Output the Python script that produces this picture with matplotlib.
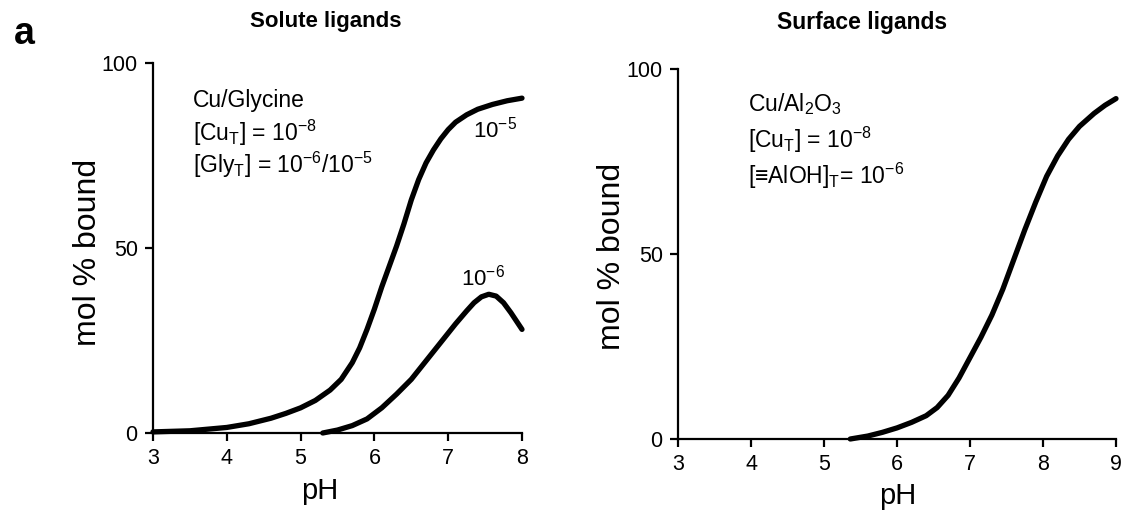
import matplotlib
matplotlib.use("Agg")
import matplotlib.pyplot as plt

plt.rcParams["font.family"] = ["Liberation Sans", "DejaVu Sans"]
plt.rcParams["mathtext.fontset"] = "custom"
plt.rcParams["mathtext.rm"] = "Liberation Sans"
plt.rcParams["mathtext.it"] = "Liberation Sans:italic"
plt.rcParams["mathtext.bf"] = "Liberation Sans:bold"

# Cu bound by glycine, [Gly_T] = 1e-5
gly5_ph = [3.0, 3.5, 4.0, 4.3, 4.6, 4.8, 5.0, 5.2, 5.4, 5.55, 5.7, 5.8, 5.9, 6.0, 6.1, 6.2,
           6.3, 6.4, 6.5, 6.6, 6.7, 6.8, 6.9, 7.0, 7.1, 7.25, 7.4, 7.6, 7.8, 8.0]
gly5_pct = [0.3, 0.6, 1.5, 2.5, 4.0, 5.3, 6.8, 8.8, 11.6, 14.5, 19.0, 23.0, 28.0, 33.5, 39.5, 45.0,
            50.5, 56.5, 63.0, 68.5, 73.0, 76.5, 79.5, 82.0, 84.0, 86.0, 87.5, 88.8, 89.8, 90.5]

# Cu bound by glycine, [Gly_T] = 1e-6
gly6_ph = [5.3, 5.5, 5.7, 5.9, 6.1, 6.3, 6.5, 6.7, 6.9, 7.1, 7.25, 7.35, 7.45, 7.55, 7.65, 7.75, 7.85, 8.0]
gly6_pct = [0.0, 0.8, 2.0, 3.8, 6.8, 10.5, 14.5, 19.5, 24.5, 29.5, 33.0, 35.2, 36.8, 37.5, 37.0, 35.2, 32.5, 28.0]

# Cu bound on Al2O3 surface
al_ph = [5.36, 5.6, 5.8, 6.0, 6.2, 6.4, 6.55, 6.7, 6.85, 7.0, 7.15, 7.3, 7.45, 7.6, 7.75,
         7.9, 8.05, 8.2, 8.35, 8.5, 8.7, 8.85, 9.0]
al_pct = [0.0, 0.8, 1.8, 3.0, 4.5, 6.3, 8.5, 11.8, 16.5, 22.0, 27.5, 33.5, 40.5, 48.5, 56.5,
          64.0, 71.0, 76.5, 81.0, 84.5, 88.0, 90.2, 92.0]

W, H = 1134, 512
fig = plt.figure(figsize=(W / 100, H / 100), dpi=100)


def px(x, y):
    return x / W, 1 - y / H


def axes_px(x0, x1, y0, y1):
    return fig.add_axes([x0 / W, 1 - y1 / H, (x1 - x0) / W, (y1 - y0) / H])


ax1 = axes_px(153, 522, 63, 433)
ax2 = axes_px(678, 1116, 69, 439)

for ax, xmax in [(ax1, 8), (ax2, 9)]:
    ax.set_xlim(3, xmax)
    ax.set_ylim(0, 100)
    ax.set_xticks(range(3, xmax + 1))
    ax.set_yticks([0, 50, 100])
    for s in ["top", "right"]:
        ax.spines[s].set_visible(False)
    for s in ["left", "bottom"]:
        ax.spines[s].set_linewidth(1.6)
    ax.tick_params(direction="out", length=6, width=1.6, labelsize=15.5, pad=5)
    ax.patch.set_alpha(0)

ax1.plot(gly5_ph, gly5_pct, color="black", lw=3.8, solid_capstyle="round", clip_on=False)
ax1.plot(gly6_ph, gly6_pct, color="black", lw=3.8, solid_capstyle="round", clip_on=False)
ax2.plot(al_ph, al_pct, color="black", lw=3.8, solid_capstyle="round", clip_on=False)

# curve labels
ax1.text(7.64, 82, r"10$^{-5}$", fontsize=16, ha="center", va="center")
ax1.text(7.47, 42, r"10$^{-6}$", fontsize=16, ha="center", va="center")

# titles and panel letter
fig.text(*px(326, 22), "Solute ligands", fontsize=16, fontweight="bold", ha="center", va="center")
fig.text(*px(862, 22), "Surface ligands", fontsize=16.5, fontweight="bold", ha="center", va="center")
fig.text(*px(24, 34), "a", fontsize=27, fontweight="bold", ha="center", va="center")

# axis labels
fig.text(*px(88, 252), "mol % bound", fontsize=23, rotation=90, ha="center", va="center")
fig.text(*px(612, 256), "mol % bound", fontsize=23, rotation=90, ha="center", va="center")
fig.text(*px(320, 491), "pH", fontsize=21, ha="center", va="center")
fig.text(*px(898, 496), "pH", fontsize=21, ha="center", va="center")

# annotations
fig.text(*px(193, 100), "Cu/Glycine", fontsize=16.5, ha="left", va="center")
fig.text(*px(193, 133), r"[Cu$_{\rm T}$] = 10$^{-8}$", fontsize=16.5, ha="left", va="center")
fig.text(*px(193, 165), r"[Gly$_{\rm T}$] = 10$^{-6}$/10$^{-5}$", fontsize=16.5, ha="left", va="center")

fig.text(*px(748, 104), r"Cu/Al$_2$O$_3$", fontsize=16.5, ha="left", va="center")
fig.text(*px(748, 140), r"[Cu$_{\rm T}$] = 10$^{-8}$", fontsize=16.5, ha="left", va="center")
fig.text(*px(748, 176), "[\u2261AlOH]$_{\\rm T}$= 10$^{-6}$", fontsize=16.5, ha="left", va="center")

fig.savefig("out.png", dpi=100)
